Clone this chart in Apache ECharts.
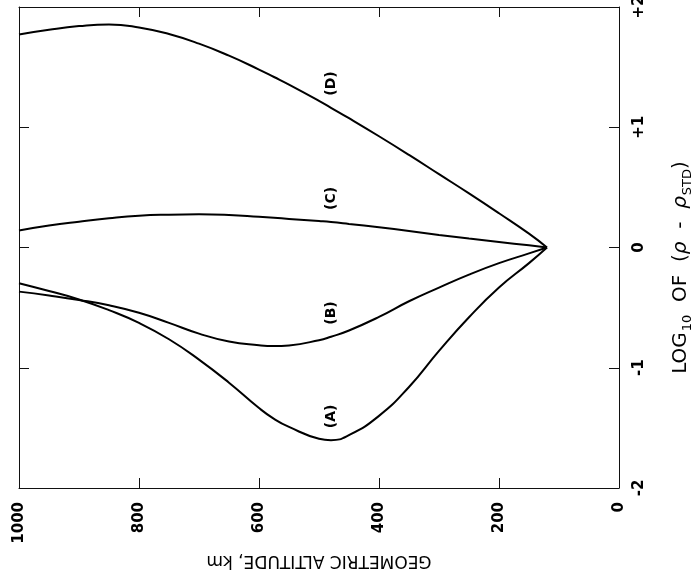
<!DOCTYPE html>
<html>
<head>
<meta charset="utf-8">
<script src="https://cdn.jsdelivr.net/npm/echarts@6/dist/echarts.min.js"></script>
<style>
  html, body { margin: 0; padding: 0; background: #fff; }
  #chart { width: 695px; height: 581px; }
</style>
</head>
<body>
<div id="chart"></div>
<script>
// Geometric altitude (km) at which each curve is sampled
const altitudes = [1000, 950, 900, 850, 800, 750, 700, 650, 600, 575, 550, 500, 480, 450, 400, 350, 300, 250, 200, 150, 120];

// log10 of (rho - rho_STD) for each model curve
const curveA = [-0.297, -0.362, -0.432, -0.521, -0.627, -0.763, -0.932, -1.124, -1.335, -1.425, -1.492, -1.59, -1.602, -1.56, -1.40, -1.16, -0.86, -0.58, -0.333, -0.13, 0];
const curveB = [-0.367, -0.399, -0.436, -0.481, -0.543, -0.627, -0.716, -0.782, -0.813, -0.82, -0.814, -0.771, -0.742, -0.69, -0.577, -0.447, -0.333, -0.225, -0.13, -0.049, 0];
const curveC = [0.142, 0.183, 0.215, 0.243, 0.264, 0.273, 0.276, 0.27, 0.255, 0.247, 0.238, 0.22, 0.212, 0.196, 0.168, 0.137, 0.104, 0.074, 0.046, 0.018, 0];
const curveD = [1.772, 1.811, 1.841, 1.855, 1.83, 1.775, 1.695, 1.595, 1.48, 1.418, 1.355, 1.22, 1.162, 1.075, 0.925, 0.77, 0.61, 0.45, 0.285, 0.115, 0];

const curveNames = ['(A)', '(B)', '(C)', '(D)'];
const curves = [curveA, curveB, curveC, curveD];

// Altitude at which the curve tags are written
const tagAltitude = 480;

// Tick values
const altitudeTicks = [0, 200, 400, 600, 800, 1000];
const logTicks = [-2, -1, 0, 1, 2];

const INK = '#111';
const FONT = 'DejaVu Sans';

function curveData(values, tag) {
  return altitudes.map((a, i) => {
    if (a === tagAltitude) {
      return {
        value: [a, values[i]],
        symbol: 'circle',
        symbolSize: 0,
        label: {
          show: true,
          formatter: tag,
          position: 'top',
          distance: 12,
          rotate: 90,
          align: 'left',
          verticalAlign: 'middle',
          fontFamily: FONT,
          fontWeight: 'bold',
          fontSize: 14,
          color: '#000'
        }
      };
    }
    return { value: [a, values[i]], symbol: 'none' };
  });
}

const frameAxis = {
  axisLine: { show: true, onZero: false, lineStyle: { color: INK, width: 1 } },
  axisTick: { show: true, inside: true, length: 10, lineStyle: { color: INK, width: 1 } },
  splitLine: { show: false }
};

const option = {
  animation: false,
  backgroundColor: '#fff',
  grid: { left: 19, right: 76, top: 7, bottom: 93, containLabel: false, outerBoundsMode: 'none' },
  xAxis: [
    Object.assign({
      type: 'value',
      min: altitudeTicks[0],
      max: altitudeTicks[altitudeTicks.length - 1],
      interval: 200,
      inverse: true,
      position: 'bottom',
      axisLabel: {
        rotate: 90,
        margin: 14,
        fontFamily: FONT,
        fontWeight: 'bold',
        fontSize: 15,
        color: '#000',
        formatter: v => String(v)
      },
      name: 'GEOMETRIC ALTITUDE, km',
      nameLocation: 'middle',
      nameRotate: 180,
      nameGap: 62,
      nameTextStyle: { fontFamily: FONT, fontSize: 17, color: '#000' }
    }, frameAxis),
    Object.assign({
      type: 'value',
      min: altitudeTicks[0],
      max: altitudeTicks[altitudeTicks.length - 1],
      interval: 200,
      inverse: true,
      position: 'top',
      axisLabel: { show: false }
    }, frameAxis)
  ],
  yAxis: [
    Object.assign({
      type: 'value',
      min: logTicks[0],
      max: logTicks[logTicks.length - 1],
      interval: 1,
      position: 'right',
      axisLabel: {
        rotate: 90,
        margin: 13,
        fontFamily: FONT,
        fontWeight: 'bold',
        fontSize: 15,
        color: '#000',
        formatter: v => (v > 0 ? '+' + v : String(v))
      },
      name: '{t|LOG}{s|10}{t|  OF  (}{g|ρ}{t|  -  }{g|ρ}{s|STD}{t|)}',
      nameLocation: 'middle',
      nameRotate: 90,
      nameGap: 49,
      nameTextStyle: {
        fontFamily: FONT,
        fontSize: 20,
        color: '#000',
        padding: [0, 40, 0, 0],
        rich: {
          t: { fontFamily: FONT, fontSize: 20, color: '#000', lineHeight: 23 },
          s: { fontFamily: FONT, fontSize: 13, color: '#000', padding: [13, 0, 0, 1] },
          g: { fontFamily: FONT, fontSize: 20, fontStyle: 'italic', color: '#000', lineHeight: 23 }
        }
      }
    }, frameAxis),
    Object.assign({
      type: 'value',
      min: logTicks[0],
      max: logTicks[logTicks.length - 1],
      interval: 1,
      position: 'left',
      axisLabel: { show: false }
    }, frameAxis)
  ],
  series: curves.map((values, k) => ({
    type: 'line',
    name: curveNames[k],
    xAxisIndex: 0,
    yAxisIndex: 0,
    smooth: 0.5,
    showSymbol: true,
    data: curveData(values, curveNames[k]),
    lineStyle: { color: '#000', width: 2 },
    itemStyle: { color: '#000' },
    emphasis: { disabled: true }
  }))
};

const chart = echarts.init(document.getElementById('chart'), null, { renderer: 'canvas' });
chart.setOption(option);
</script>
</body>
</html>
